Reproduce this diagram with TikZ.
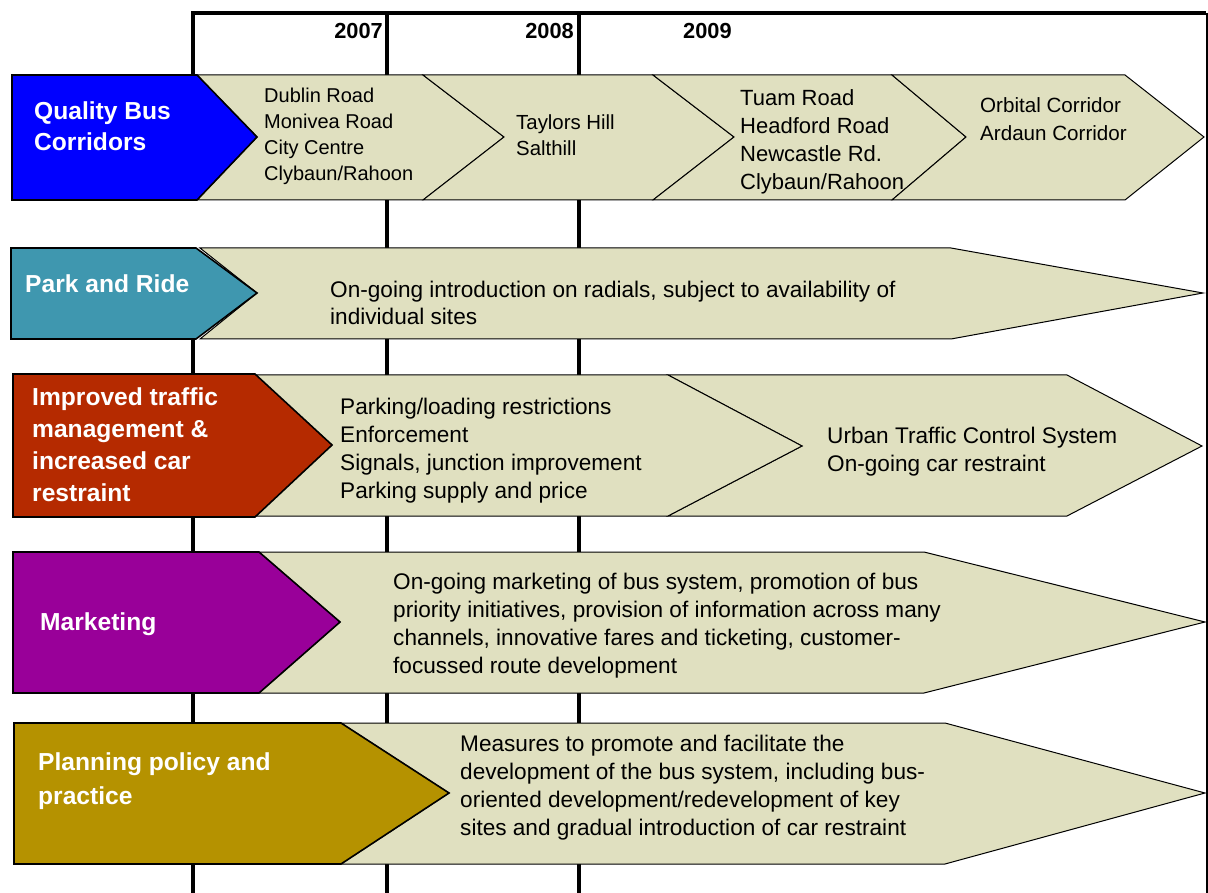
\documentclass[tikz,border=0pt]{standalone}
\usepackage{fontspec}
\setmainfont{Liberation Sans}
\definecolor{beige}{RGB}{224,224,192}
\definecolor{qblue}{RGB}{0,0,255}
\definecolor{teal}{RGB}{63,151,175}
\definecolor{rust}{RGB}{181,42,0}
\definecolor{plum}{RGB}{153,0,153}
\definecolor{gold}{RGB}{181,146,0}

\begin{document}
\begin{tikzpicture}[x=1pt, y=-1pt,
    chev/.style={fill=beige, draw=black, line width=1pt},
    head/.style={fill=#1, draw=black, line width=1.6pt},
    col/.style={line width=4pt},
    lbl/.style={anchor=west, inner sep=0pt, align=left, text=white, font=\bfseries\fontsize{24.6}{32}\selectfont},
    txt/.style={anchor=west, inner sep=0pt, align=left, font=\fontsize{22.6}{28}\selectfont},
    yr/.style={inner sep=0pt, font=\bfseries\fontsize{21.8}{24}\selectfont}]

    \useasboundingbox (0,0) rectangle (1208,893);

    % time grid
    \draw[col] (193,75) -- (193,13) -- (1206,13);
    \draw[col] (193,248) -- (193,893);
    \foreach \x in {387,579}
        \draw[col] (\x,13) -- (\x,893);
    \draw[line width=2pt] (1206.5,13) -- (1206.5,893);

    \node [yr, anchor=east] (y7) at (383,31) {2007};
    \node [yr, anchor=east] (y8) at (574,31) {2008};
    \node [yr, anchor=west] (y9) at (683,31) {2009};

    % quality bus corridors
    \foreach \a/\b/\c/\d in {197/257/423/504, 423/504/653/734, 653/734/892/966, 892/966/1125/1204}
        \draw[chev] (\a,75) -- (\c,75) -- (\d,137) -- (\c,200) -- (\a,200) -- (\b,137) -- cycle;
    \draw[head=qblue] (12,75) -- (197,75) -- (257,137) -- (197,200) -- (12,200) -- cycle;
    \node [lbl, font=\bfseries\fontsize{24.6}{31}\selectfont] (qbc) at (34,126) {Quality Bus\\Corridors};
    \node [txt, font=\fontsize{20}{26}\selectfont] (qbc1) at (264,136.5) {Dublin Road\\Monivea Road\\City Centre\\Clybaun/Rahoon};
    \node [txt, font=\fontsize{20.4}{26}\selectfont] (qbc2) at (516,135) {Taylors Hill\\Salthill};
    \node [txt, font=\fontsize{22}{28}\selectfont] (qbc3) at (740,141.5) {Tuam Road\\Headford Road\\Newcastle Rd.\\Clybaun/Rahoon};
    \node [txt, font=\fontsize{20.6}{28}\selectfont] (qbc4) at (980,119) {Orbital Corridor\\Ardaun Corridor};

    % park and ride
    \draw[chev] (200,248) -- (951,248) -- (1203,293) -- (951,339) -- (200,339) -- (257,293) -- cycle;
    \draw[head=teal] (11,248) -- (196,248) -- (257,293) -- (196,339) -- (11,339) -- cycle;
    \node [lbl] (pr) at (25,284) {Park and Ride};
    \node [txt, font=\fontsize{22.6}{27}\selectfont] (pr1) at (330,302.5) {On-going introduction on radials, subject to availability of\\individual sites};

    % traffic management
    \draw[chev] (668,375) -- (1067,375) -- (1202,446) -- (1067,516) -- (668,516) -- (802,446) -- cycle;
    \draw[chev] (255,375) -- (668,375) -- (802,446) -- (668,516) -- (255,516) -- (332,445) -- cycle;
    \draw[head=rust] (13,374) -- (255,374) -- (332,445) -- (255,517) -- (13,517) -- cycle;
    \node [lbl] (itm) at (32,444.5) {Improved traffic\\management \&\\increased car\\restraint};
    \node [txt] (itm1) at (340,450.5) {Parking/loading restrictions\\Enforcement\\Signals, junction improvement\\Parking supply and price};
    \node [txt] (itm2) at (827,451.5) {Urban Traffic Control System\\On-going car restraint};

    % marketing
    \draw[chev] (259,552) -- (924,552) -- (1205,622) -- (924,693) -- (259,693) -- (340,622) -- cycle;
    \draw[head=plum] (13,552) -- (259,552) -- (340,622) -- (259,693) -- (13,693) -- cycle;
    \node [lbl] (mkt) at (40,624) {Marketing};
    \node [txt] (mkt1) at (393,626) {On-going marketing of bus system, promotion of bus\\priority initiatives, provision of information across many\\channels, innovative fares and ticketing, customer-\\focussed route development};

    % planning
    \draw[chev] (341,723) -- (945,723) -- (1205,793) -- (945,864) -- (341,864) -- (449,793) -- cycle;
    \draw[head=gold] (14,723) -- (341,723) -- (449,793) -- (341,864) -- (14,864) -- cycle;
    \node [lbl, font=\bfseries\fontsize{24.6}{34}\selectfont] (ppp) at (38,781) {Planning policy and\\practice};
    \node [txt] (ppp1) at (460,787.5) {Measures to promote and facilitate the\\development of the bus system, including bus-\\oriented development/redevelopment of key\\sites and gradual introduction of car restraint};
\end{tikzpicture}
\end{document}
